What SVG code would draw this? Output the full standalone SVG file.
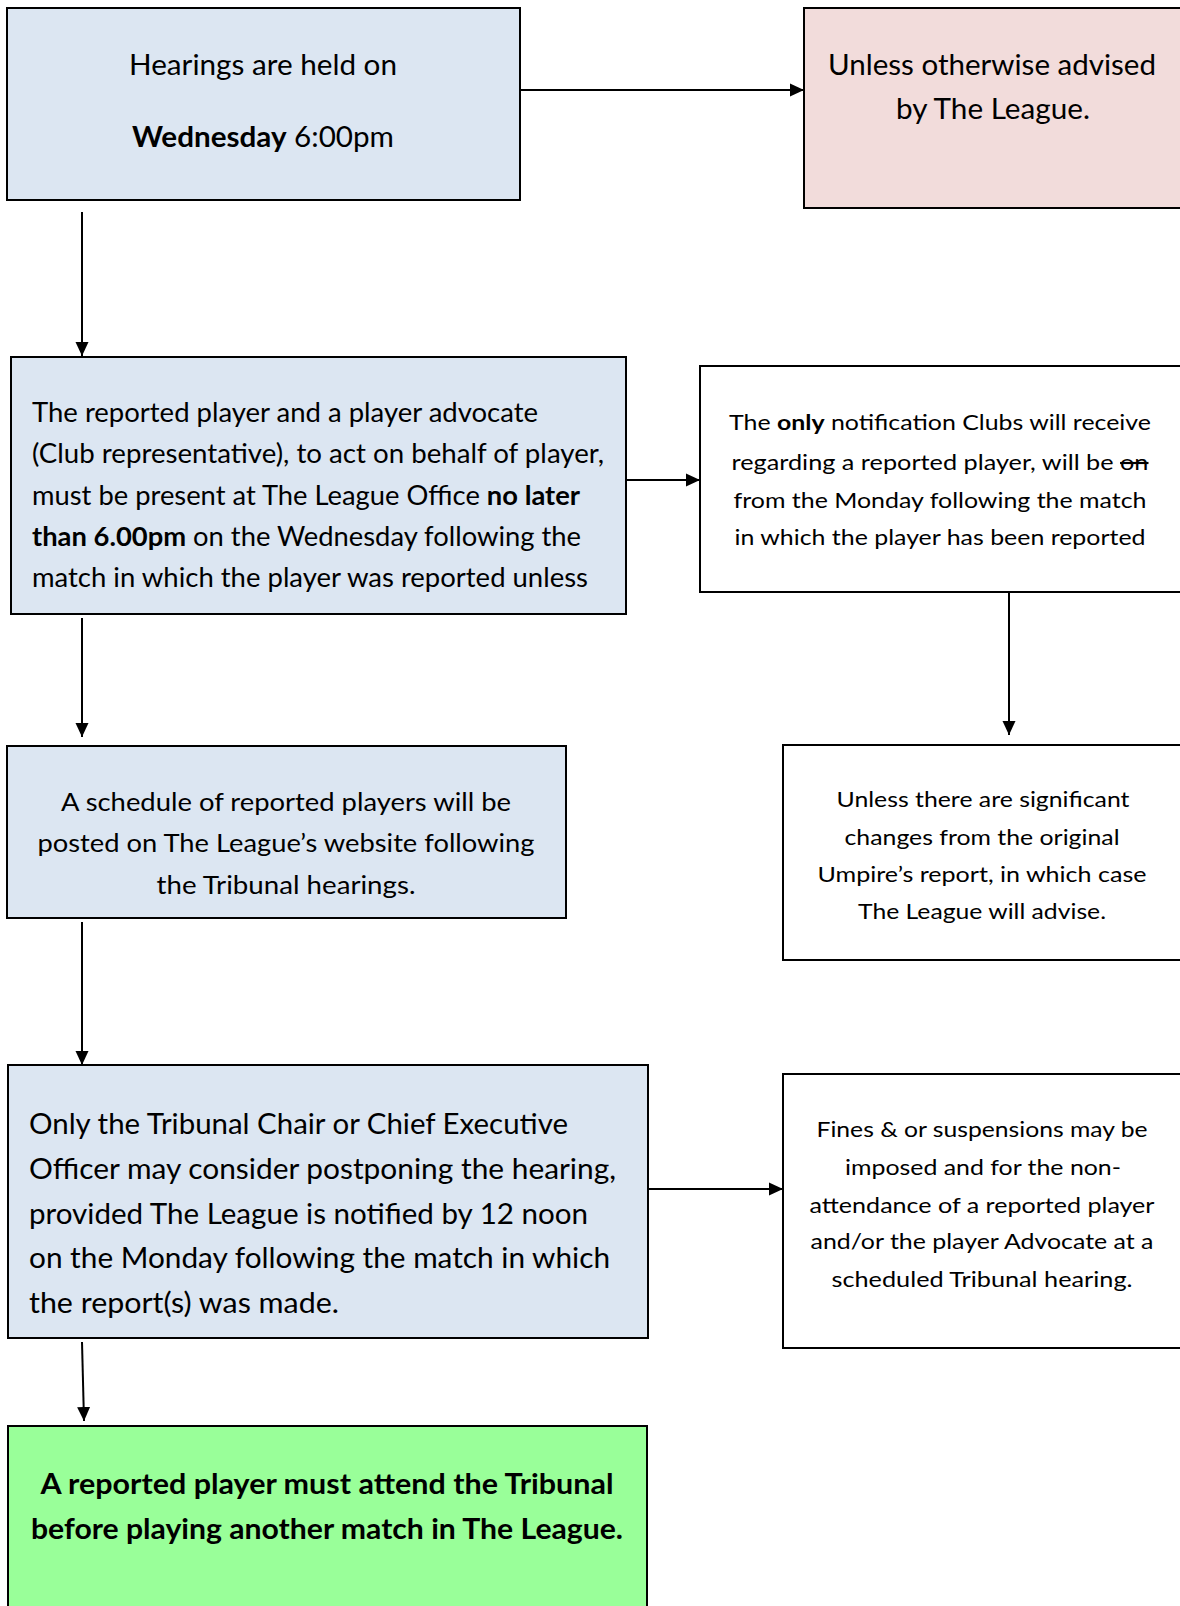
<svg xmlns="http://www.w3.org/2000/svg" width="1180" height="1606" viewBox="0 0 1180 1606">
<defs>
<style>
.box{stroke:#000;stroke-width:2}
.blue{fill:#DCE6F2}
.pink{fill:#F2DCDB}
.white{fill:#FFFFFF}
.green{fill:#99FF99}
text{font-family:Lato,"Open Sans","Liberation Sans",sans-serif;fill:#000}
.c{text-anchor:middle}
.b{font-weight:bold}
.con{stroke:#000;stroke-width:2;fill:none;marker-end:url(#ah)}
</style>
<marker id="ah" viewBox="0 0 14 14" refX="14" refY="7" markerWidth="14" markerHeight="14" markerUnits="userSpaceOnUse" orient="auto">
<path d="M0,0.5 L14,7 L0,13.5 Z" fill="#000"/>
</marker>
</defs>
<rect width="1180" height="1606" fill="#fff"/>

<g id="connectors">
<line class="con" x1="520" y1="90" x2="804" y2="90"/>
<line class="con" x1="82" y1="212" x2="82" y2="356"/>
<line class="con" x1="623" y1="480" x2="700" y2="480"/>
<line class="con" x1="1009" y1="592" x2="1009" y2="735"/>
<line class="con" x1="82" y1="618" x2="82" y2="737"/>
<line class="con" x1="82" y1="922" x2="82" y2="1065"/>
<line class="con" x1="648" y1="1189" x2="783" y2="1189"/>
<line class="con" x1="82" y1="1342" x2="84" y2="1421"/>
</g>

<g id="node-hearings">
<rect class="box blue" x="7" y="8" width="513" height="192"/>
<text class="c" x="263" y="75" font-size="28" textLength="268" lengthAdjust="spacingAndGlyphs">Hearings are held on</text>
<text class="c" x="263" y="147" font-size="28" textLength="262" lengthAdjust="spacingAndGlyphs"><tspan class="b">Wednesday</tspan> 6:00pm</text>
</g>

<g id="node-unless-advised">
<rect class="box pink" x="804" y="8" width="380" height="200"/>
<text class="c" x="992" y="75" font-size="28" textLength="328" lengthAdjust="spacingAndGlyphs">Unless otherwise advised</text>
<text class="c" x="993" y="119" font-size="28" textLength="194" lengthAdjust="spacingAndGlyphs">by The League.</text>
</g>

<g id="node-reported-player">
<rect class="box blue" x="11" y="357" width="615" height="257"/>
<text x="32" y="422" font-size="26" textLength="506" lengthAdjust="spacingAndGlyphs">The reported player and a player advocate</text>
<text x="32" y="463" font-size="26" textLength="572" lengthAdjust="spacingAndGlyphs">(Club representative), to act on behalf of player,</text>
<text x="32" y="505" font-size="26" textLength="548" lengthAdjust="spacingAndGlyphs">must be present at The League Office <tspan class="b">no later</tspan></text>
<text x="32" y="546" font-size="26" textLength="549" lengthAdjust="spacingAndGlyphs"><tspan class="b">than 6.00pm</tspan> on the Wednesday following the</text>
<text x="32" y="587" font-size="26" textLength="556" lengthAdjust="spacingAndGlyphs">match in which the player was reported unless</text>
</g>

<g id="node-notification">
<rect class="box white" x="700" y="366" width="484" height="226"/>
<text class="c" x="940" y="430" font-size="21.5" textLength="422" lengthAdjust="spacingAndGlyphs">The <tspan class="b">only</tspan> notification Clubs will receive</text>
<text class="c" x="940" y="470" font-size="21.5" textLength="417" lengthAdjust="spacingAndGlyphs">regarding a reported player, will be <tspan text-decoration="line-through">on</tspan></text>
<text class="c" x="940" y="508" font-size="21.5" textLength="413" lengthAdjust="spacingAndGlyphs">from the Monday following the match</text>
<text class="c" x="940" y="545" font-size="21.5" textLength="411" lengthAdjust="spacingAndGlyphs">in which the player has been reported</text>
</g>

<g id="node-significant-changes">
<rect class="box white" x="783" y="745" width="401" height="215"/>
<text class="c" x="983" y="807" font-size="22" textLength="293" lengthAdjust="spacingAndGlyphs">Unless there are significant</text>
<text class="c" x="982" y="845" font-size="22" textLength="275" lengthAdjust="spacingAndGlyphs">changes from the original</text>
<text class="c" x="982" y="882" font-size="22" textLength="329" lengthAdjust="spacingAndGlyphs">Umpire’s report, in which case</text>
<text class="c" x="982" y="919" font-size="22" textLength="248" lengthAdjust="spacingAndGlyphs">The League will advise.</text>
</g>

<g id="node-schedule">
<rect class="box blue" x="7" y="746" width="559" height="172"/>
<text class="c" x="286" y="811" font-size="24.5" textLength="450" lengthAdjust="spacingAndGlyphs">A schedule of reported players will be</text>
<text class="c" x="286" y="852" font-size="24.5" textLength="497" lengthAdjust="spacingAndGlyphs">posted on The League’s website following</text>
<text class="c" x="286" y="894" font-size="24.5" textLength="259" lengthAdjust="spacingAndGlyphs">the Tribunal hearings.</text>
</g>

<g id="node-postponing">
<rect class="box blue" x="8" y="1065" width="640" height="273"/>
<text x="29" y="1134" font-size="28" textLength="539" lengthAdjust="spacingAndGlyphs">Only the Tribunal Chair or Chief Executive</text>
<text x="29" y="1179" font-size="28" textLength="587" lengthAdjust="spacingAndGlyphs">Officer may consider postponing the hearing,</text>
<text x="29" y="1224" font-size="28" textLength="559" lengthAdjust="spacingAndGlyphs">provided The League is notified by 12 noon</text>
<text x="29" y="1268" font-size="28" textLength="581" lengthAdjust="spacingAndGlyphs">on the Monday following the match in which</text>
<text x="29" y="1313" font-size="28" textLength="310" lengthAdjust="spacingAndGlyphs">the report(s) was made.</text>
</g>

<g id="node-fines">
<rect class="box white" x="783" y="1074" width="401" height="274"/>
<text class="c" x="982" y="1137" font-size="22" textLength="331" lengthAdjust="spacingAndGlyphs">Fines &amp; or suspensions may be</text>
<text class="c" x="983" y="1175" font-size="22" textLength="276" lengthAdjust="spacingAndGlyphs">imposed and for the non-</text>
<text class="c" x="982" y="1213" font-size="22" textLength="345" lengthAdjust="spacingAndGlyphs">attendance of a reported player</text>
<text class="c" x="982" y="1249" font-size="22" textLength="343" lengthAdjust="spacingAndGlyphs">and/or the player Advocate at a</text>
<text class="c" x="982" y="1287" font-size="22" textLength="301" lengthAdjust="spacingAndGlyphs">scheduled Tribunal hearing.</text>
</g>

<g id="node-must-attend">
<rect class="box green" x="8" y="1426" width="639" height="190"/>
<text class="c b" x="327" y="1494" font-size="29" textLength="573" lengthAdjust="spacingAndGlyphs">A reported player must attend the Tribunal</text>
<text class="c b" x="327" y="1539" font-size="29" textLength="592" lengthAdjust="spacingAndGlyphs">before playing another match in The League.</text>
</g>
</svg>
